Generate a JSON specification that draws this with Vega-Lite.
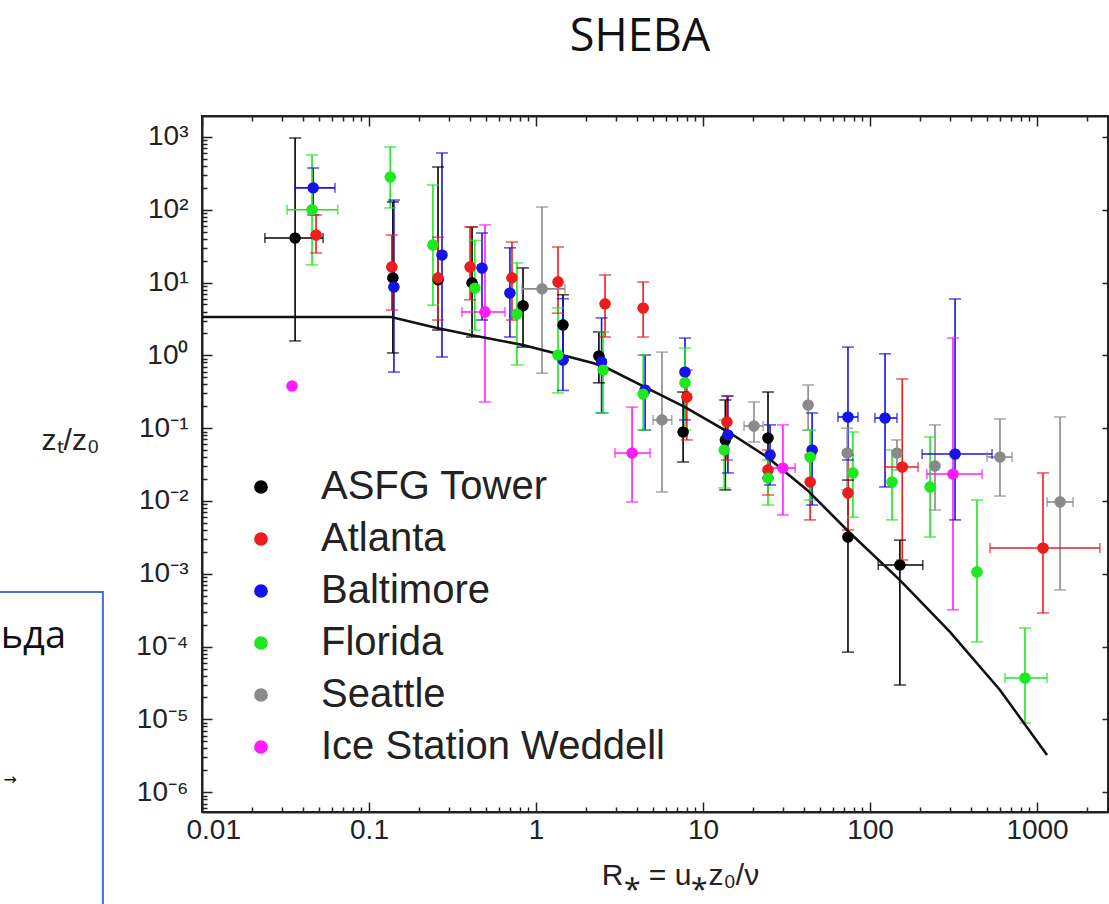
{
"$schema": "https://vega.github.io/schema/vega-lite/v6.json",
"width": 906, "height": 696,
"autosize": {"type": "none"},
"padding": {"left": 202, "top": 116, "right": 1, "bottom": 92},
"background": "white",
"config": {"view": {"stroke": "#222", "strokeWidth": 2}, "axis": {"grid": false}},
"title": {"text": "SHEBA", "font": "Open Sans", "fontSize": 45, "fontWeight": "normal", "color": "#111", "anchor": "middle", "offset": 19, "dx": -15, "baseline": "alphabetic"},
"datasets": {
"pts": [
{"s":"ASFG Tower","r":0.0361,"v":41,"lo":1.58,"hi":968,"xl":0.0238,"xh":0.0531},
{"s":"ASFG Tower","r":0.139,"v":11.6,"lo":1.08,"hi":128},
{"s":"ASFG Tower","r":0.259,"v":10.9,"lo":2.23,"hi":387},
{"s":"ASFG Tower","r":0.414,"v":9.9,"lo":1.79,"hi":58},
{"s":"ASFG Tower","r":0.836,"v":4.8,"lo":1.3,"hi":15.9},
{"s":"ASFG Tower","r":1.45,"v":2.62,"lo":0.865,"hi":6.8},
{"s":"ASFG Tower","r":2.38,"v":0.98,"lo":0.42,"hi":2.1},
{"s":"ASFG Tower","r":7.6,"v":0.0887,"lo":0.0343,"hi":0.314},
{"s":"ASFG Tower","r":13.6,"v":0.069,"lo":0.0142,"hi":0.244},
{"s":"ASFG Tower","r":24.5,"v":0.0733,"lo":0.0207,"hi":0.314},
{"s":"ASFG Tower","r":73.8,"v":0.0032,"lo":0.000084,"hi":0.0194},
{"s":"ASFG Tower","r":151,"v":0.00132,"lo":0.0000297,"hi":0.0029,"xl":112,"xh":207},
{"s":"Atlanta","r":0.0482,"v":45,"lo":25.5,"hi":85},
{"s":"Atlanta","r":0.137,"v":16.4,"lo":4.2,"hi":45},
{"s":"Atlanta","r":0.259,"v":11.6,"lo":3.06,"hi":42},
{"s":"Atlanta","r":0.403,"v":16.4,"lo":5.8,"hi":58},
{"s":"Atlanta","r":0.718,"v":11.6,"lo":3.06,"hi":36},
{"s":"Atlanta","r":1.355,"v":10.2,"lo":3.8,"hi":30.8},
{"s":"Atlanta","r":2.59,"v":5.1,"lo":1.79,"hi":12.7},
{"s":"Atlanta","r":4.38,"v":4.48,"lo":1.79,"hi":10.2},
{"s":"Atlanta","r":8.0,"v":0.268,"lo":0.069,"hi":0.63},
{"s":"Atlanta","r":13.9,"v":0.122,"lo":0.0366,"hi":0.277},
{"s":"Atlanta","r":24.5,"v":0.0267,"lo":0.0121,"hi":0.05},
{"s":"Atlanta","r":43.8,"v":0.0182,"lo":0.0055,"hi":0.0428},
{"s":"Atlanta","r":73.8,"v":0.0129,"lo":0.004,"hi":0.0428},
{"s":"Atlanta","r":156,"v":0.0293,"lo":0.00155,"hi":0.474,"xl":123,"xh":194},
{"s":"Atlanta","r":1086,"v":0.00226,"lo":0.00029,"hi":0.0243,"xl":523,"xh":2380},
{"s":"Baltimore","r":0.0463,"v":200,"lo":85,"hi":375,"xl":0.036,"xh":0.0625},
{"s":"Baltimore","r":0.141,"v":8.7,"lo":0.59,"hi":136},
{"s":"Baltimore","r":0.2735,"v":23.9,"lo":0.95,"hi":603},
{"s":"Baltimore","r":0.475,"v":15.8,"lo":3.06,"hi":48},
{"s":"Baltimore","r":0.698,"v":7.2,"lo":1.79,"hi":30},
{"s":"Baltimore","r":1.45,"v":0.865,"lo":0.33,"hi":6.0},
{"s":"Baltimore","r":2.47,"v":0.81,"lo":0.162,"hi":3.27},
{"s":"Baltimore","r":4.5,"v":0.335,"lo":0.094,"hi":1.01},
{"s":"Baltimore","r":7.8,"v":0.59,"lo":0.13,"hi":1.73},
{"s":"Baltimore","r":14.1,"v":0.0807,"lo":0.0243,"hi":0.277},
{"s":"Baltimore","r":25.2,"v":0.0428,"lo":0.0166,"hi":0.111},
{"s":"Baltimore","r":45,"v":0.0502,"lo":0.0088,"hi":0.162},
{"s":"Baltimore","r":73.8,"v":0.1426,"lo":0.0366,"hi":1.3,"xl":64.3,"xh":84.7},
{"s":"Baltimore","r":123,"v":0.138,"lo":0.0156,"hi":1.05,"xl":107,"xh":145},
{"s":"Baltimore","r":323,"v":0.0442,"lo":0.0055,"hi":5.95,"xl":205,"xh":538},
{"s":"Florida","r":0.0456,"v":100,"lo":17.5,"hi":566,"xl":0.0323,"xh":0.065},
{"s":"Florida","r":0.134,"v":282,"lo":106,"hi":729},
{"s":"Florida","r":0.2415,"v":32.9,"lo":4.9,"hi":219},
{"s":"Florida","r":0.43,"v":8.4,"lo":2.23,"hi":38},
{"s":"Florida","r":0.769,"v":3.7,"lo":0.74,"hi":18.6},
{"s":"Florida","r":1.355,"v":1.01,"lo":0.305,"hi":4.5},
{"s":"Florida","r":2.52,"v":0.63,"lo":0.162,"hi":2.1},
{"s":"Florida","r":4.38,"v":0.295,"lo":0.094,"hi":1.01},
{"s":"Florida","r":7.8,"v":0.42,"lo":0.094,"hi":1.26},
{"s":"Florida","r":13.4,"v":0.0502,"lo":0.0151,"hi":0.13},
{"s":"Florida","r":24.5,"v":0.0207,"lo":0.0088,"hi":0.0366},
{"s":"Florida","r":43.8,"v":0.0402,"lo":0.0103,"hi":0.094},
{"s":"Florida","r":79,"v":0.0243,"lo":0.006,"hi":0.0887},
{"s":"Florida","r":135.5,"v":0.0182,"lo":0.0055,"hi":0.05},
{"s":"Florida","r":229,"v":0.0156,"lo":0.0032,"hi":0.0757},
{"s":"Florida","r":437,"v":0.00106,"lo":0.000116,"hi":0.0103},
{"s":"Florida","r":847,"v":0.000037,"lo":0.0000089,"hi":0.00018,"xl":643,"xh":1148},
{"s":"Seattle","r":1.087,"v":8.2,"lo":0.57,"hi":109,"xl":0.824,"xh":1.49},
{"s":"Seattle","r":5.68,"v":0.13,"lo":0.0133,"hi":1.11,"xl":5.02,"xh":6.5},
{"s":"Seattle","r":20.2,"v":0.107,"lo":0.0646,"hi":0.229,"xl":17.6,"xh":22.9},
{"s":"Seattle","r":42.6,"v":0.208,"lo":0.094,"hi":0.392},
{"s":"Seattle","r":73,"v":0.0456,"lo":0.0142,"hi":0.1},
{"s":"Seattle","r":145,"v":0.0456,"lo":0.0267,"hi":0.069},
{"s":"Seattle","r":245,"v":0.0303,"lo":0.0075,"hi":0.111},
{"s":"Seattle","r":600,"v":0.0402,"lo":0.0117,"hi":0.134,"xl":502,"xh":708},
{"s":"Seattle","r":1374,"v":0.0097,"lo":0.0006,"hi":0.1426,"xl":1148,"xh":1644},
{"s":"Ice Station Weddell","r":0.0346,"v":0.38},
{"s":"Ice Station Weddell","r":0.495,"v":3.95,"lo":0.229,"hi":62,"xl":0.36,"xh":0.652},
{"s":"Ice Station Weddell","r":3.76,"v":0.0456,"lo":0.0097,"hi":0.195,"xl":2.97,"xh":4.82},
{"s":"Ice Station Weddell","r":30.1,"v":0.0284,"lo":0.00643,"hi":0.111,"xl":24.5,"xh":35.6},
{"s":"Ice Station Weddell","r":314,"v":0.0235,"lo":0.00032,"hi":1.73,"xl":219,"xh":469}
],
"curve": [
{"r":0.01,"v":3.37},{"r":0.1355,"v":3.37},{"r":0.255,"v":2.38},{"r":0.408,"v":1.9},{"r":0.836,"v":1.39},{"r":2.19,"v":0.787},{"r":2.66,"v":0.671},{"r":4.62,"v":0.356},{"r":7.8,"v":0.195},{"r":14.5,"v":0.0859},{"r":24.2,"v":0.0402},{"r":42,"v":0.0142},{"r":75.9,"v":0.00363},{"r":151,"v":0.00082},{"r":301,"v":0.000159},{"r":600,"v":0.0000254},{"r":1148,"v":0.00000324}
]
},
"layer": [
{
"data": {"name": "pts"},
"mark": {"type": "circle", "size": 125, "opacity": 1},
"encoding": {
"x": {"field": "r", "type": "quantitative", "scale": {"type": "log", "domain": [0.01, 2661], "nice": false}, "axis": null},
"y": {"field": "v", "type": "quantitative", "scale": {"type": "log", "domain": [5.35e-7, 1941], "nice": false}, "axis": null},
"color": {"field": "s", "type": "nominal",
"scale": {"domain": ["ASFG Tower","Atlanta","Baltimore","Florida","Seattle","Ice Station Weddell"], "range": ["#000000","#ee1c1c","#1414e6","#1ee81e","#8a8a8a","#ff1aff"]},
"legend": {"orient": "none", "legendX": 39, "legendY": 351, "title": null, "padding": 0,
"labelFont": "Liberation Sans", "labelFontSize": 40, "labelColor": "#222", "labelOffset": 40, "labelLimit": 0,
"symbolType": "circle", "symbolSize": 150, "rowPadding": 12}}
}
},
{
"data": {"name": "pts"},
"transform": [{"filter": "isValid(datum.lo)"}],
"mark": {"type": "rule", "strokeWidth": 1.6},
"encoding": {
"x": {"field": "r", "type": "quantitative", "scale": {"type": "log", "domain": [0.01, 2661], "nice": false},
"axis": {"orient": "bottom",
"values": [0.01,0.02,0.03,0.04,0.05,0.06,0.07,0.08,0.09,0.1,0.2,0.3,0.4,0.5,0.6,0.7,0.8,0.9,1,2,3,4,5,6,7,8,9,10,20,30,40,50,60,70,80,90,100,200,300,400,500,600,700,800,900,1000,2000],
"format": "~g",
"labelExpr": "abs(log(datum.value)/LN10 - round(log(datum.value)/LN10)) < 1e-6 ? datum.label : ''",
"tickSize": {"condition": {"test": "abs(log(datum.value)/LN10 - round(log(datum.value)/LN10)) < 1e-6", "value": -10}, "value": -5},
"tickWidth": 1.5, "tickColor": "#222", "domainColor": "#222", "domainWidth": 2,
"labelFont": "Liberation Sans", "labelFontSize": 28, "labelColor": "#222", "labelPadding": 14, "labelOverlap": false, "labelFlush": 5, "labelFlushOffset": 16,
"title": "R⁎ = u⁎z₀/ν", "titleFont": "Liberation Sans", "titleFontSize": 30, "titleFontWeight": "normal", "titleColor": "#222", "titleX": 478, "titleY": 72, "titleAlign": "center", "titleBaseline": "alphabetic"}},
"y": {"field": "lo", "type": "quantitative", "scale": {"type": "log", "domain": [5.35e-7, 1941], "nice": false},
"axis": {"orient": "left",
"values": [6e-7,7e-7,8e-7,9e-7,1e-6,2e-6,3e-6,4e-6,5e-6,6e-6,7e-6,8e-6,9e-6,1e-5,2e-5,3e-5,4e-5,5e-5,6e-5,7e-5,8e-5,9e-5,1e-4,2e-4,3e-4,4e-4,5e-4,6e-4,7e-4,8e-4,9e-4,0.001,0.002,0.003,0.004,0.005,0.006,0.007,0.008,0.009,0.01,0.02,0.03,0.04,0.05,0.06,0.07,0.08,0.09,0.1,0.2,0.3,0.4,0.5,0.6,0.7,0.8,0.9,1,2,3,4,5,6,7,8,9,10,20,30,40,50,60,70,80,90,100,200,300,400,500,600,700,800,900,1000],
"labelExpr": "abs(log(datum.value)/LN10 - round(log(datum.value)/LN10)) < 1e-6 ? '10' + ['⁻⁶','⁻⁵','⁻⁴','⁻³','⁻²','⁻¹','⁰','¹','²','³'][round(log(datum.value)/LN10) + 6] : ''",
"tickSize": {"condition": {"test": "abs(log(datum.value)/LN10 - round(log(datum.value)/LN10)) < 1e-6", "value": -10}, "value": -5},
"tickWidth": 1.5, "tickColor": "#222", "domainColor": "#222", "domainWidth": 2,
"labelFont": "Liberation Sans", "labelFontSize": 28, "labelColor": "#222", "labelPadding": 24, "labelOverlap": false, "labelFlush": false,
"title": "zₜ/z₀", "titleFont": "Liberation Sans", "titleFontSize": 30, "titleFontWeight": "normal", "titleColor": "#222", "titleAngle": 0, "titleX": -132, "titleY": 324, "titleAlign": "center", "titleBaseline": "middle"}},
"y2": {"field": "hi"},
"color": {"field": "s", "type": "nominal"}
}
},
{
"data": {"name": "pts"},
"transform": [{"filter": "isValid(datum.xl)"}],
"mark": {"type": "rule", "strokeWidth": 1.6},
"encoding": {
"x": {"field": "xl", "type": "quantitative", "scale": {"type": "log", "domain": [0.01, 2661], "nice": false},
"axis": {"orient": "top",
"values": [0.01,0.02,0.03,0.04,0.05,0.06,0.07,0.08,0.09,0.1,0.2,0.3,0.4,0.5,0.6,0.7,0.8,0.9,1,2,3,4,5,6,7,8,9,10,20,30,40,50,60,70,80,90,100,200,300,400,500,600,700,800,900,1000,2000],
"labels": false, "title": null,
"tickSize": {"condition": {"test": "abs(log(datum.value)/LN10 - round(log(datum.value)/LN10)) < 1e-6", "value": -10}, "value": -5},
"tickWidth": 1.5, "tickColor": "#222", "domainColor": "#222", "domainWidth": 2}},
"x2": {"field": "xh"},
"y": {"field": "v", "type": "quantitative", "scale": {"type": "log", "domain": [5.35e-7, 1941], "nice": false},
"axis": {"orient": "right", "values": [1e-6,1e-5,1e-4,0.001,0.01,0.1,1,10,100,1000], "labels": false, "title": null, "tickSize": -6, "tickWidth": 1.5, "tickColor": "#222", "domainColor": "#222", "domainWidth": 2}},
"color": {"field": "s", "type": "nominal"}
}
},
{
"data": {"name": "pts"},
"transform": [{"filter": "isValid(datum.lo)"}],
"mark": {"type": "tick", "orient": "horizontal", "size": 12, "thickness": 1.6},
"encoding": {
"x": {"field": "r", "type": "quantitative", "scale": {"type": "log", "domain": [0.01, 2661], "nice": false}, "axis": null},
"y": {"field": "lo", "type": "quantitative", "scale": {"type": "log", "domain": [5.35e-7, 1941], "nice": false}, "axis": null},
"color": {"field": "s", "type": "nominal"}
}
},
{
"data": {"name": "pts"},
"transform": [{"filter": "isValid(datum.hi)"}],
"mark": {"type": "tick", "orient": "horizontal", "size": 12, "thickness": 1.6},
"encoding": {
"x": {"field": "r", "type": "quantitative", "scale": {"type": "log", "domain": [0.01, 2661], "nice": false}, "axis": null},
"y": {"field": "hi", "type": "quantitative", "scale": {"type": "log", "domain": [5.35e-7, 1941], "nice": false}, "axis": null},
"color": {"field": "s", "type": "nominal"}
}
},
{
"data": {"name": "pts"},
"transform": [{"filter": "isValid(datum.xl)"}],
"mark": {"type": "tick", "orient": "vertical", "size": 10, "thickness": 1.6},
"encoding": {
"x": {"field": "xl", "type": "quantitative", "scale": {"type": "log", "domain": [0.01, 2661], "nice": false}, "axis": null},
"y": {"field": "v", "type": "quantitative", "scale": {"type": "log", "domain": [5.35e-7, 1941], "nice": false}, "axis": null},
"color": {"field": "s", "type": "nominal"}
}
},
{
"data": {"name": "pts"},
"transform": [{"filter": "isValid(datum.xh)"}],
"mark": {"type": "tick", "orient": "vertical", "size": 10, "thickness": 1.6},
"encoding": {
"x": {"field": "xh", "type": "quantitative", "scale": {"type": "log", "domain": [0.01, 2661], "nice": false}, "axis": null},
"y": {"field": "v", "type": "quantitative", "scale": {"type": "log", "domain": [5.35e-7, 1941], "nice": false}, "axis": null},
"color": {"field": "s", "type": "nominal"}
}
},
{
"data": {"name": "curve"},
"mark": {"type": "line", "color": "#111", "strokeWidth": 2.6},
"encoding": {
"x": {"field": "r", "type": "quantitative", "scale": {"type": "log", "domain": [0.01, 2661], "nice": false}, "axis": null},
"y": {"field": "v", "type": "quantitative", "scale": {"type": "log", "domain": [5.35e-7, 1941], "nice": false}, "axis": null}
}
},
{
"data": {"name": "pts"},
"mark": {"type": "circle", "size": 125, "opacity": 1},
"encoding": {
"x": {"field": "r", "type": "quantitative", "scale": {"type": "log", "domain": [0.01, 2661], "nice": false}, "axis": null},
"y": {"field": "v", "type": "quantitative", "scale": {"type": "log", "domain": [5.35e-7, 1941], "nice": false}, "axis": null},
"color": {"field": "s", "type": "nominal"}
}
},
{
"data": {"values": [{"x1": 0.0005, "x2": 0.00255, "y1": 0.000562, "y2": 0.00000002}]},
"mark": {"type": "rect", "fill": null, "stroke": "#4472c4", "strokeWidth": 2},
"encoding": {
"x": {"field": "x1", "type": "quantitative", "scale": {"type": "log", "domain": [0.01, 2661], "nice": false}, "axis": null},
"x2": {"field": "x2"},
"y": {"field": "y1", "type": "quantitative", "scale": {"type": "log", "domain": [5.35e-7, 1941], "nice": false}, "axis": null},
"y2": {"field": "y2"}
}
},
{
"data": {"values": [{"x": 0.001535, "y": 0.0001355, "t": "ьда"}]},
"mark": {"type": "text", "align": "right", "baseline": "middle", "font": "Open Sans", "fontSize": 38, "color": "#111"},
"encoding": {
"x": {"field": "x", "type": "quantitative", "scale": {"type": "log", "domain": [0.01, 2661], "nice": false}, "axis": null},
"y": {"field": "y", "type": "quantitative", "scale": {"type": "log", "domain": [5.35e-7, 1941], "nice": false}, "axis": null},
"text": {"field": "t"}
}
},
{
"data": {"values": [{"x": 0.00078, "y": 0.00000147, "t": "→"}]},
"mark": {"type": "text", "align": "right", "baseline": "middle", "font": "DejaVu Sans", "fontSize": 16, "color": "#111"},
"encoding": {
"x": {"field": "x", "type": "quantitative", "scale": {"type": "log", "domain": [0.01, 2661], "nice": false}, "axis": null},
"y": {"field": "y", "type": "quantitative", "scale": {"type": "log", "domain": [5.35e-7, 1941], "nice": false}, "axis": null},
"text": {"field": "t"}
}
}
],
"resolve": {"axis": {"x": "independent", "y": "independent"}}
}
